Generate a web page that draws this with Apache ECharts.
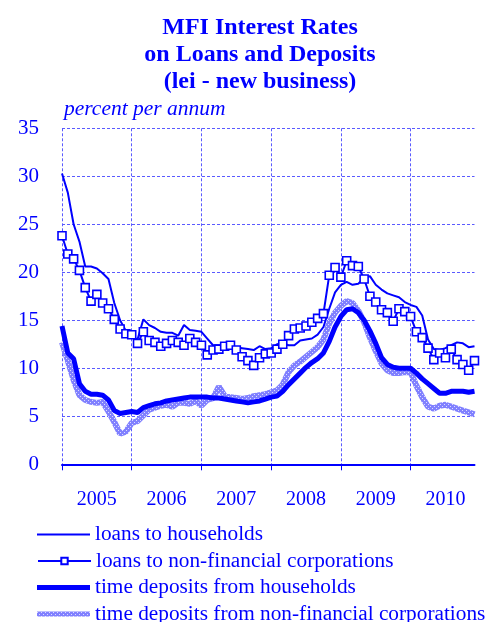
<!DOCTYPE html>
<html>
<head>
<meta charset="utf-8">
<script src="https://cdn.jsdelivr.net/npm/echarts@6/dist/echarts.min.js"></script>
<style>
  html, body { margin: 0; padding: 0; background: #fff; }
  #main { width: 488px; height: 622px; }
</style>
</head>
<body>
<div id="main"></div>
<script>
var years = ['2005', '2006', '2007', '2008', '2009', '2010'];

var loansHouseholds = [
    30.3, 28.3, 25.0, 23.2, 20.6, 20.6, 20.4, 19.9, 19.3, 16.8, 15.0, 13.9,
    13.3, 13.0, 15.1, 14.5, 14.2, 13.8, 13.7, 13.7, 13.4, 14.5, 14.0, 13.9,
    13.8, 13.1, 12.4, 12.4, 12.3, 12.3, 12.2, 12.1, 12.0, 11.9, 12.3, 12.0,
    12.1, 12.5, 12.6, 12.4, 12.4, 12.9, 13.0, 13.1, 13.5, 14.3, 16.2, 17.9,
    18.7, 19.0, 18.7, 18.8, 19.4, 19.6, 18.7, 18.2, 17.8, 17.6, 17.4, 16.9,
    16.6, 16.4, 15.5, 13.0, 12.0, 11.9, 12.1, 12.4, 12.7, 12.6, 12.2, 12.3
];

var loansCorporations = [
    23.8, 21.9, 21.4, 20.2, 18.4, 17.0, 17.7, 16.8, 16.2, 15.1, 14.1, 13.6,
    13.5, 12.6, 13.8, 12.9, 12.7, 12.3, 12.6, 12.9, 12.7, 12.4, 13.1, 12.7,
    12.4, 11.4, 11.9, 12.0, 12.3, 12.4, 11.9, 11.2, 10.8, 10.3, 11.1, 11.5,
    11.6, 12.0, 12.5, 13.4, 14.1, 14.2, 14.4, 14.8, 15.2, 15.7, 19.7, 20.5,
    19.5, 21.2, 20.7, 20.6, 19.3, 17.5, 16.9, 16.1, 15.8, 14.9, 16.2, 15.9,
    15.4, 13.8, 13.2, 12.1, 10.9, 11.6, 11.1, 12.0, 10.9, 10.4, 9.8, 10.8
];

var depositsHouseholds = [
    14.4, 11.6, 11.0, 8.4, 7.6, 7.3, 7.3, 7.2, 6.7, 5.6, 5.3, 5.4,
    5.5, 5.4, 5.9, 6.1, 6.3, 6.4, 6.6, 6.7, 6.8, 6.9, 7.0, 7.0,
    7.0, 7.0, 6.9, 6.9, 6.8, 6.7, 6.6, 6.5, 6.4, 6.5, 6.6, 6.8,
    7.0, 7.1, 7.6, 8.3, 8.9, 9.5, 10.1, 10.6, 11.0, 11.6, 12.8, 14.3,
    15.4, 16.1, 16.2, 15.8, 15.0, 13.9, 12.6, 11.1, 10.4, 10.1, 10.0, 10.0,
    10.0, 9.5, 8.9, 8.4, 7.9, 7.4, 7.4, 7.6, 7.6, 7.6, 7.5, 7.6
];

var depositsCorporations = [
    12.7, 10.8, 8.8, 7.2, 6.7, 6.5, 6.4, 6.5, 5.5, 4.4, 3.2, 3.4,
    4.3, 4.5, 5.1, 5.7, 5.9, 6.1, 6.2, 6.0, 6.4, 6.4, 6.3, 6.6,
    6.1, 6.7, 6.9, 8.1, 7.1, 7.0, 6.9, 6.8, 6.9, 7.1, 7.2, 7.3,
    7.5, 7.7, 8.3, 9.6, 10.3, 10.7, 11.2, 11.7, 12.2, 13.0, 14.7, 15.8,
    16.5, 17.0, 16.8, 16.0, 14.8, 13.2, 11.8, 10.5, 9.8, 9.5, 9.5, 9.6,
    9.6, 8.2, 7.0, 6.0, 5.8, 6.1, 6.2, 6.0, 5.8, 5.6, 5.4, 5.2
];

var seriesNames = [
    'loans to households',
    'loans to non-financial corporations',
    'time deposits from households',
    'time deposits from non-financial corporations'
];

// monthly categories
var months = [];
years.forEach(function (y) {
    for (var m = 1; m <= 12; m++) {
        months.push(y + '-' + (m < 10 ? '0' + m : m));
    }
});

var blue = '#0000ff';
var gridBlue = '#5a5aff';
var serif = '"Liberation Serif", "Times New Roman", serif';

// light hatched pattern for the corporations deposits line
var pat = document.createElement('canvas');
pat.width = 4;
pat.height = 4;
var pctx = pat.getContext('2d');
pctx.fillStyle = '#8080ff';
pctx.fillRect(0, 0, 4, 4);
pctx.fillStyle = '#dcdcff';
pctx.fillRect(0, 0, 1, 1);
pctx.fillRect(2, 2, 1, 1);
var hatch = { image: pat, repeat: 'repeat' };

// legend icons: plain bars of the line's thickness
function bar(h) {
    return 'path://M0,0L53,0L53,' + h + 'L0,' + h + 'Z';
}

// one legend row per series, stacked under the plot
var legendIcons = [bar(2), null, bar(5), bar(5)];
var legends = seriesNames.map(function (name, i) {
    var item = { name: name };
    if (legendIcons[i]) item.icon = legendIcons[i];
    if (i === 3) item.itemStyle = { color: hatch };
    return {
        orient: 'horizontal',
        left: 37,
        top: 524 + i * 26.5,
        padding: 0,
        itemWidth: 53,
        itemHeight: i === 1 ? 8 : 12,
        textStyle: {
            fontFamily: serif,
            fontSize: 21.3,
            lineHeight: 20,
            color: blue
        },
        data: [item]
    };
});

var myChart = echarts.init(document.getElementById('main'));

var option = {
    animation: false,
    title: {
        text: 'MFI Interest Rates\non Loans and Deposits\n(lei - new business)',
        left: 255,
        top: 9,
        textAlign: 'center',
        textStyle: {
            fontFamily: serif,
            fontWeight: 'bold',
            fontSize: 24,
            lineHeight: 27,
            color: blue
        }
    },
    legend: legends,
    grid: {
        left: 62,
        right: 13.5,
        top: 128.3,
        bottom: 157.7
    },
    xAxis: {
        type: 'category',
        boundaryGap: false,
        data: months,
        axisLine: { lineStyle: { color: blue, width: 2 } },
        axisTick: {
            interval: function (index) { return index % 12 === 0; },
            length: 6,
            lineStyle: { color: blue }
        },
        axisLabel: {
            interval: function (index) { return index % 12 === 6; },
            formatter: function (v) { return v.slice(0, 4); },
            fontFamily: serif,
            fontSize: 20,
            color: blue,
            margin: 25
        },
        splitLine: {
            show: true,
            interval: function (index) { return index % 12 === 0; },
            lineStyle: { color: gridBlue, type: [3, 2], width: 1 }
        }
    },
    yAxis: {
        type: 'value',
        min: 0,
        max: 35,
        interval: 5,
        name: 'percent per annum',
        nameLocation: 'end',
        nameGap: 8,
        nameTextStyle: {
            fontFamily: serif,
            fontStyle: 'italic',
            fontSize: 21.5,
            color: blue,
            align: 'left',
            padding: [0, 0, 0, 2]
        },
        axisLine: { show: false },
        axisTick: { show: false },
        axisLabel: {
            fontFamily: serif,
            fontSize: 21,
            color: blue,
            margin: 23
        },
        splitLine: {
            lineStyle: { color: gridBlue, type: [3, 2], width: 1 }
        }
    },
    series: [
        {
            name: seriesNames[0],
            type: 'line',
            data: loansHouseholds,
            symbol: 'none',
            lineStyle: { color: blue, width: 2 },
            itemStyle: { color: blue },
            z: 4
        },
        {
            name: seriesNames[1],
            type: 'line',
            data: loansCorporations,
            symbol: 'rect',
            symbolSize: 8,
            showAllSymbol: true,
            lineStyle: { color: blue, width: 2 },
            itemStyle: { color: '#fff', borderColor: blue, borderWidth: 1.6 },
            z: 5
        },
        {
            name: seriesNames[2],
            type: 'line',
            data: depositsHouseholds,
            symbol: 'none',
            lineStyle: { color: blue, width: 5 },
            itemStyle: { color: blue },
            z: 3
        },
        {
            name: seriesNames[3],
            type: 'line',
            data: depositsCorporations,
            symbol: 'none',
            lineStyle: { color: hatch, width: 6 },
            itemStyle: { color: '#8080ff' },
            z: 2
        }
    ]
};
myChart.setOption(option);
</script>
</body>
</html>
